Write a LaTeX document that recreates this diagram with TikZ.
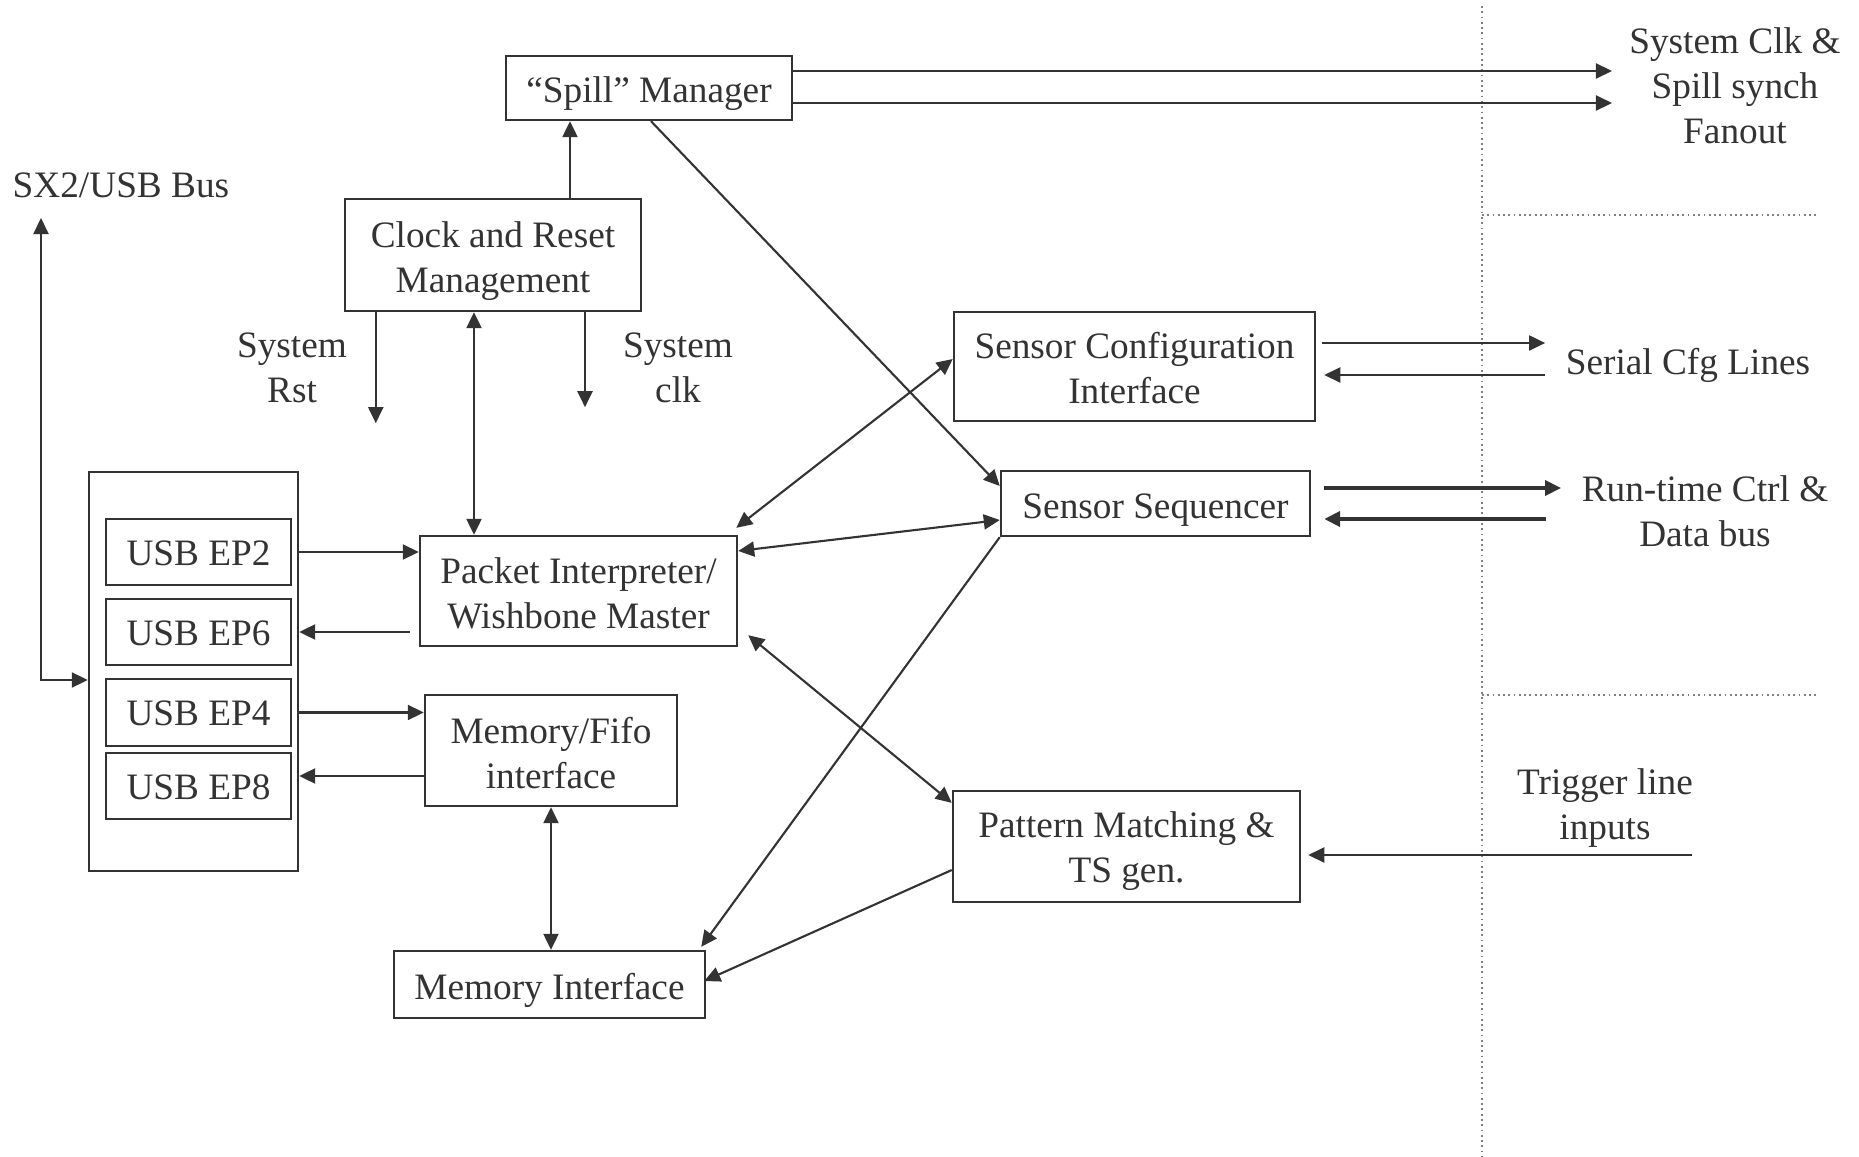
\documentclass[tikz,border=0pt]{standalone}
\usepackage{fontspec}
\setmainfont{Liberation Serif}
\usetikzlibrary{arrows.meta,calc}
\definecolor{ink}{HTML}{333333}
\begin{document}
\begin{tikzpicture}[x=0.01cm,y=-0.01cm,
  every node/.style={font=\fontsize{10.6pt}{12.8pt}\selectfont, text=ink},
  blk/.style={draw=ink, line width=0.65pt, inner sep=0pt},
  bt/.style={align=center, inner sep=0pt},
  tip/.tip={Triangle[length=0.16cm,width=0.15cm]},
  arr/.style={draw=ink, line width=0.6pt, -tip},
  biarr/.style={draw=ink, line width=0.6pt, tip-tip},
  thickarr/.style={draw=ink, -tip},
  lbl/.style={align=center, inner sep=0pt},
  sep/.style={draw=gray, line width=0.5pt, dash pattern=on 0.5pt off 1pt}]
\useasboundingbox (0,0) rectangle (1859,1157);
\fill[white] (0,0) rectangle (1859,1157);

% boxes
\node[blk, minimum width=2.86cm, minimum height=0.64cm,
  label={[bt,yshift=-0.06cm]center:{“Spill” Manager}}] (spill) at (649,88) {};
\node[blk, minimum width=2.96cm, minimum height=1.12cm,
  label={[bt,yshift=-0.06cm]center:{Clock and Reset\\Management}}] (clock) at (493,255) {};
\node[blk, minimum width=2.09cm, minimum height=3.99cm] (usb) at (193.5,671.5) {};
\node[blk, minimum width=1.85cm, minimum height=0.66cm,
  label={[bt,yshift=-0.01cm]center:{USB EP2}}] (ep2) at (198.5,552) {};
\node[blk, minimum width=1.85cm, minimum height=0.66cm,
  label={[bt,yshift=-0.01cm]center:{USB EP6}}] (ep6) at (198.5,632) {};
\node[blk, minimum width=1.85cm, minimum height=0.67cm,
  label={[bt,yshift=-0.01cm]center:{USB EP4}}] (ep4) at (198.5,712.5) {};
\node[blk, minimum width=1.85cm, minimum height=0.66cm,
  label={[bt,yshift=-0.01cm]center:{USB EP8}}] (ep8) at (198.5,786) {};
\node[blk, minimum width=3.17cm, minimum height=1.10cm,
  label={[bt,yshift=-0.02cm]center:{Packet Interpreter/\\Wishbone Master}}] (packet) at (578.5,591) {};
\node[blk, minimum width=2.52cm, minimum height=1.11cm,
  label={[bt,yshift=-0.03cm]center:{Memory/Fifo\\interface}}] (fifo) at (551,750.5) {};
\node[blk, minimum width=3.11cm, minimum height=0.67cm,
  label={[bt,yshift=-0.06cm]center:{Memory Interface}}] (memif) at (549.5,984.5) {};
\node[blk, minimum width=3.61cm, minimum height=1.09cm,
  label={[bt,yshift=-0.02cm]center:{Sensor Configuration\\Interface}}] (sci) at (1134.5,366.5) {};
\node[blk, minimum width=3.09cm, minimum height=0.65cm,
  label={[bt,yshift=-0.07cm]center:{Sensor Sequencer}}] (seq) at (1155.5,503.5) {};
\node[blk, minimum width=3.47cm, minimum height=1.11cm,
  label={[bt,yshift=-0.05cm]center:{Pattern Matching \&\\TS gen.}}] (pm) at (1126.5,846.5) {};

% labels
\node[lbl, anchor=west] (sx2) at (12,185) {SX2/USB Bus};
\node[lbl] (rstl) at (292,368) {System\\Rst};
\node[lbl] (clkl) at (678,368) {System\\clk};
\node[lbl] (fan) at (1735,86) {System Clk \&\\Spill synch\\Fanout};
\node[lbl] (ser) at (1688,365) {Serial Cfg Lines};
\node[lbl] (rt) at (1705,511) {Run-time Ctrl \&\\Data bus};
\node[lbl] (trig) at (1605,808) {Trigger line\\inputs};

% separators
\draw[sep] (1482,6) -- (1482,1157);
\draw[sep] (1482,215) -- (1816,215);
\draw[sep] (1482,695) -- (1816,695);

% clock connections
\draw[arr] ($(clock.north)+(77,0)$) coordinate (cu) -- (cu |- spill.south);
\coordinate (rsend) at ($(clock.south west)+(32,111)$);
\draw[arr] (rsend |- clock.south) -- (rsend);
\coordinate (ckend) at ($(clock.south)+(92,95)$);
\draw[arr] (ckend |- clock.south) -- (ckend);
\draw[biarr] ($(clock.south)+(-19,0)$) coordinate (cb) -- (cb |- packet.north);

% SX2 bus
\coordinate (sxtop) at (41,218);
\coordinate (usbin) at ($(usb.west)+(0,8.5)$);
\draw[biarr] (sxtop) -- (sxtop |- usbin) -- (usbin);

% fanout
\coordinate (fo) at (1612,0);
\draw[arr] ([yshift=0.17cm]spill.east) coordinate (s1) -- (s1 -| fo);
\draw[arr] ([yshift=-0.15cm]spill.east) coordinate (s2) -- (s2 -| fo);

% serial cfg
\draw[arr] ($(sci.east)+(6,-23.5)$) -- ($(ser.west)+(-20,-22)$);
\draw[arr] ($(ser.west)+(-20,10)$) -- ($(sci.east)+(8,8.5)$);

% run-time
\draw[thickarr, line width=1.0pt] ($(seq.east)+(13,-15.5)$) -- ($(rt.west)+(-20,-23)$);
\draw[thickarr, line width=1.3pt] ($(rt.west)+(-35,8)$) -- ($(seq.east)+(13,15.5)$);

% trigger
\draw[arr] ($(trig.east)+(-2,47)$) -- ($(pm.east)+(7,8.5)$);

% diagonals
\draw[arr] ($(spill.south)+(2,0)$) -- ([yshift=0.175cm]seq.west);
\draw[biarr] ($(packet.north east)+(-2,-7)$) -- ([yshift=0.075cm]sci.west);
\draw[biarr] ([yshift=0.4cm]packet.east) -- ([yshift=-0.165cm]seq.west);
\draw[biarr] ($(packet.south east)+(10,-12)$) -- ([yshift=-0.13cm]pm.north west);
\draw[arr] (seq.south west) -- ($(memif.north east)+(-5,-3)$);
\draw[arr] ([yshift=-0.235cm]pm.west) -- ($(memif.east)+(-2,-3.5)$);

% usb endpoints
\draw[arr] (usb.east |- ep2.east) -- (packet.west |- ep2.east);
\draw[arr] ($(packet.west |- ep6.east)+(-9,0)$) -- (usb.east |- ep6.east);
\draw[arr] (usb.east |- ep4.east) -- (fifo.west |- ep4.east);
\coordinate (f8) at ($(fifo.west)+(0,25.5)$);
\draw[arr] (f8) -- (usb.east |- f8);
\draw[biarr] (fifo.south) -- (fifo.south |- memif.north);
\end{tikzpicture}
\end{document}
